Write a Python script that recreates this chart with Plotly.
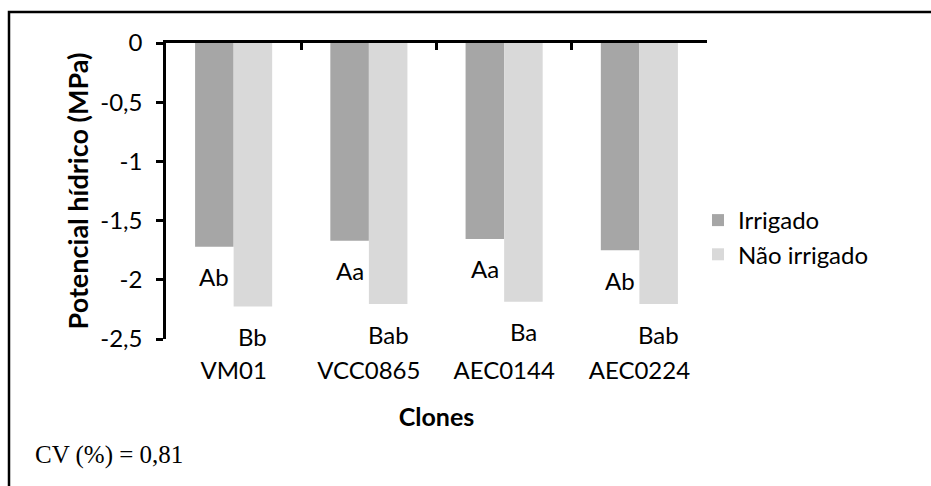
import plotly.graph_objects as go

clones = ["VM01", "VCC0865", "AEC0144", "AEC0224"]
irrigado = [-1.72, -1.67, -1.655, -1.75]
nao_irrigado = [-2.225, -2.205, -2.185, -2.205]
letters_irrigado = ["Ab", "Aa", "Aa", "Ab"]
letters_nao = ["Bb", "Bab", "Ba", "Bab"]
ytick_vals = [0, -0.5, -1, -1.5, -2, -2.5]
ytick_text = ["0", "-0,5", "-1", "-1,5", "-2", "-2,5"]

W, H = 931, 486
L, R, T, B = 166, 224, 43, 147
pw, ph = W - L - R, H - T - B

FONT = "Lato"
FS = 24
c1, c2 = "#A6A6A6", "#D9D9D9"

fig = go.Figure()
fig.add_trace(go.Bar(name="Irrigado", x=clones, y=irrigado, marker=dict(color=c1, line=dict(width=0))))
fig.add_trace(go.Bar(name="Não irrigado", x=clones, y=nao_irrigado, marker=dict(color=c2, line=dict(width=0))))
# invisible helper trace so the top axis knows the categories
fig.add_trace(go.Scatter(x=clones, y=irrigado, xaxis="x2", mode="markers",
                         marker=dict(size=1, opacity=0), showlegend=False, hoverinfo="skip"))

bw = pw / len(clones) * (1 - 0.43) / 2
annotations = []
for i, c in enumerate(clones):
    annotations.append(dict(x=c, y=irrigado[i], text=letters_irrigado[i], showarrow=False,
                            xshift=-bw / 2, yshift=-30, font=dict(family=FONT, size=FS, color="black")))
    annotations.append(dict(x=c, y=nao_irrigado[i], text=letters_nao[i], showarrow=False,
                            xshift=bw / 2, yshift=-30, font=dict(family=FONT, size=FS, color="black")))

annotations.append(dict(xref="paper", yref="paper", x=(33 - L) / pw, y=(H - B - 455) / ph,
                        xanchor="left", yanchor="middle", showarrow=False, text="CV (%) = 0,81",
                        font=dict(family="Liberation Serif", size=25, color="black")))

fig.update_layout(
    width=W, height=H,
    margin=dict(l=L, r=R, t=T, b=B, pad=0),
    paper_bgcolor="white", plot_bgcolor="white",
    barmode="group", bargap=0.43, bargroupgap=0,
    font=dict(family=FONT, size=FS, color="black"),
    xaxis=dict(type="category", categoryarray=clones, showline=False, ticks="",
               showgrid=False, zeroline=False, tickfont=dict(family=FONT, size=FS),
               title=dict(text="<b>Clones</b>", font=dict(family=FONT, size=25), standoff=25),
               ticklabelstandoff=15),
    xaxis2=dict(type="category", categoryarray=clones, overlaying="x", matches="x", side="top",
                showline=True, linecolor="black", linewidth=2.5, ticks="inside", ticklen=7,
                tickwidth=2.5, tickcolor="black", tickson="boundaries", showticklabels=False,
                showgrid=False, zeroline=False),
    yaxis=dict(range=[-2.5, 0], tickvals=ytick_vals, ticktext=ytick_text, showline=True,
               linecolor="black", linewidth=2.5, ticks="outside", ticklen=7, tickwidth=2.5,
               tickcolor="black", showgrid=False, zeroline=False, tickfont=dict(family=FONT, size=FS),
               ticklabelstandoff=9,
               title=dict(text="<b>Potencial hídrico (MPa)</b>", font=dict(family=FONT, size=27), standoff=4)),
    legend=dict(x=(698 - L) / pw, y=(H - B - 198) / ph, xanchor="left", yanchor="top",
                font=dict(family=FONT, size=FS), bgcolor="rgba(0,0,0,0)", tracegroupgap=0),
    annotations=annotations,
    shapes=[dict(type="rect", xref="paper", yref="paper",
                 x0=(9 - L) / pw, x1=(940 - L) / pw, y0=(H - B - 495) / ph, y1=(H - B - 12) / ph,
                 line=dict(color="black", width=2.5), fillcolor="rgba(0,0,0,0)", layer="below")],
)

fig.write_html("out.html")
